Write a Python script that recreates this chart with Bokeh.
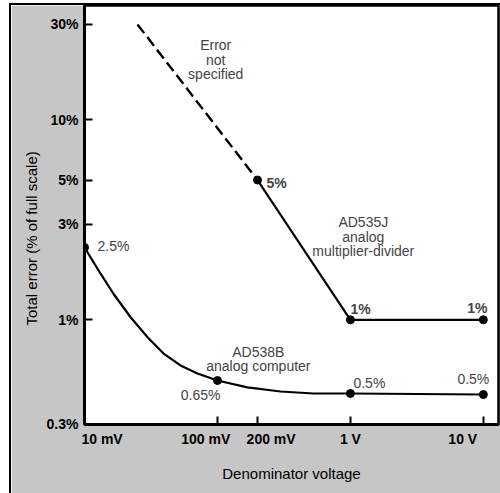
import math
from bokeh.plotting import figure
from bokeh.layouts import row, column
from bokeh.models import FixedTicker, Label, Title, Spacer
from bokeh.embed import file_html
from bokeh.resources import INLINE

# ---- data ----
x_ticks = [0.01, 0.1, 0.2, 1, 10]
x_tick_labels = ["10 mV", "100 mV", "200 mV", "1 V", "10 V"]
y_ticks = [0.3, 1, 3, 5, 10, 30]
y_tick_labels = ["0.3%", "1%", "3%", "5%", "10%", "30%"]

# AD535J analog multiplier-divider
ad535j_dash_v = [0.025, 0.2]
ad535j_dash_err = [30, 5]
ad535j_v = [0.2, 1, 10]
ad535j_err = [5, 1, 1]
ad535j_point_labels = ["5%", "1%", "1%"]

# AD538B analog computer (curve)
ad538b_curve_v = [0.01, 0.0132, 0.0165, 0.0222, 0.0299, 0.0393, 0.0527,
                  0.0707, 0.1, 0.168, 0.298, 0.527, 1, 10]
ad538b_curve_err = [2.30, 1.70, 1.35, 1.03, 0.816, 0.678, 0.591,
                    0.539, 0.497, 0.459, 0.438, 0.428, 0.428, 0.423]
ad538b_v = [0.01, 0.1, 1, 10]
ad538b_err = [2.30, 0.497, 0.428, 0.423]
ad538b_point_labels = ["2.5%", "0.65%", "0.5%", "0.5%"]

FONT = "Liberation Sans"
NB = "\u00a0"

p = figure(width=489, height=488, x_axis_type="log", y_axis_type="log",
           x_range=(0.00999, 13), y_range=(0.2995, 37.3),
           output_backend="svg", toolbar_location=None,
           min_border_left=73, min_border_right=2, min_border_top=0,
           min_border_bottom=69,
           background_fill_color="white", border_fill_color="#c6c6c6")
p.grid.visible = False
p.outline_line_color = "black"
p.outline_line_width = 2.5

for ax in (p.xaxis[0], p.yaxis[0]):
    ax.axis_line_width = 3
    ax.axis_line_color = "black"
    ax.major_tick_in = 8
    ax.major_tick_out = 0
    ax.major_tick_line_width = 2
    ax.major_tick_line_color = "black"
    ax.minor_tick_line_color = None
    ax.major_label_text_font = FONT
    ax.major_label_text_font_style = "bold"
    ax.major_label_text_font_size = "14px"
    ax.major_label_text_color = "black"
    ax.major_label_standoff = 6

# tick labels are nudged sideways (as printed in the reference) with no-break spaces
x_label_pad_left = [9, 0, 7, 0, 0]
x_label_pad_right = [0, 6, 0, 0, 6]
p.xaxis.ticker = FixedTicker(ticks=x_ticks)
p.xaxis.major_label_overrides = {
    t: NB * a + l + NB * b
    for t, l, a, b in zip(x_ticks, x_tick_labels, x_label_pad_left, x_label_pad_right)
}
p.xaxis.axis_label = "Denominator voltage"
p.xaxis.axis_label_text_font = FONT
p.xaxis.axis_label_text_font_size = "15px"
p.xaxis.axis_label_text_font_style = "normal"
p.xaxis.axis_label_text_color = "black"
p.xaxis.axis_label_standoff = 15

p.yaxis.ticker = FixedTicker(ticks=y_ticks)
p.yaxis.major_label_overrides = {t: l for t, l in zip(y_ticks, y_tick_labels)}

p.add_layout(Title(text="Total error (% of full scale)", align="left", offset=99,
                   text_font=FONT, text_font_size="15px", text_font_style="normal",
                   text_color="black", standoff=8), "left")

# ---- series ----
p.line(ad535j_dash_v, ad535j_dash_err, line_color="black", line_width=2.4,
       line_dash="11 5")
p.line(ad535j_v, ad535j_err, line_color="black", line_width=2.2)
p.scatter(ad535j_v, ad535j_err, size=8, color="black")

p.line(ad538b_curve_v, ad538b_curve_err, line_color="black", line_width=2.2)
p.scatter(ad538b_v, ad538b_err, size=8, color="black")

# ---- point labels ----
ad535j_label_style = [dict(text_align="left", x_offset=9, y_offset=-3),
                      dict(text_align="left", x_offset=0, y_offset=11),
                      dict(text_align="center", x_offset=-6, y_offset=12)]
for xv, yv, t, st in zip(ad535j_v, ad535j_err, ad535j_point_labels, ad535j_label_style):
    p.add_layout(Label(x=xv, y=yv, text=t, text_font=FONT, text_font_size="14px",
                       text_font_style="bold", text_baseline="middle", **st))

ad538b_label_style = [dict(text_align="left", x_offset=13, y_offset=1),
                      dict(text_align="right", x_offset=3, y_offset=-14),
                      dict(text_align="left", x_offset=3, y_offset=10),
                      dict(text_align="center", x_offset=-10, y_offset=16)]
for xv, yv, t, st in zip(ad538b_v, ad538b_err, ad538b_point_labels, ad538b_label_style):
    p.add_layout(Label(x=xv, y=yv, text=t, text_font=FONT, text_font_size="14px",
                       text_baseline="middle", **st))

# ---- annotations ----
p.add_layout(Label(x=0.097, y=20, text="Error\nnot\nspecified", text_font=FONT,
                   text_font_size="14px", text_align="center", text_baseline="middle",
                   text_line_height=0.9))
p.add_layout(Label(x=1.25, y=2.6, text="AD535J\nanalog\nmultiplier-divider", text_font=FONT,
                   text_font_size="14px", text_align="center", text_baseline="middle",
                   text_line_height=0.9))
p.add_layout(Label(x=0.203, y=0.637, text="AD538B\nanalog computer", text_font=FONT,
                   text_font_size="14px", text_align="center", text_baseline="middle",
                   text_line_height=0.9))

# ---- outer printed frame (thin black rules at left and top) ----
top_rule = Spacer(width=489, height=2, styles={"background-color": "black"})
left_rule = Spacer(width=2, height=490, styles={"background-color": "black"})
layout = column(Spacer(width=500, height=3),
                row(Spacer(width=9, height=490), left_rule,
                    column(top_rule, p)))

open("out.html", "w").write(file_html(layout, INLINE))
